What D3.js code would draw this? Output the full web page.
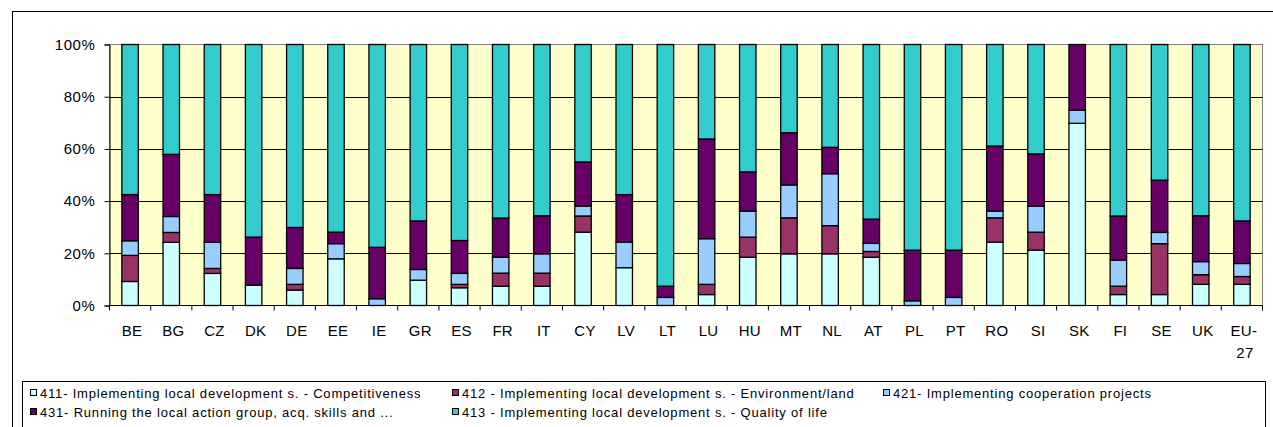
<!DOCTYPE html>
<html lang="en">
<head>
<meta charset="utf-8">
<style>
	body{
	  margin:0; padding:0;
	  background-color:#ffffff;
	  font-family:"Liberation Sans", Arial, sans-serif;
	}
	.tick text{ font-family:"Liberation Sans", Arial, sans-serif; }
</style>
<script src="https://cdn.jsdelivr.net/npm/d3@7"></script>
</head>
<body>
<svg id="chart" width="1273" height="427"></svg>
<script type="text/javascript">
// countries on the x axis
var countries=["BE","BG","CZ","DK","DE","EE","IE","GR","ES","FR","IT","CY","LV","LT","LU","HU","MT","NL","AT","PL","PT","RO","SI","SK","FI","SE","UK","EU-27"];

// shares per measure (%)
var m411=[9.2,24.2,12.3,7.8,5.9,17.9,0,9.7,6.8,7.4,7.4,28.1,14.5,0,4.2,18.5,19.8,19.8,18.5,0,0,24.3,21.2,69.8,4.2,4.2,8.1,8.1];
var m412=[10.0,3.8,1.9,0,2.2,0,0,0,1.3,5.0,5.0,6.2,0,0,3.9,7.7,13.8,10.8,2.2,0,0,9.3,6.9,0,3.2,19.5,3.7,3.0];
var m421=[5.6,6.1,10.0,0,6.1,5.8,2.6,4.1,4.2,6.1,7.4,3.8,9.8,3.1,17.5,10.0,12.6,19.9,3.1,1.8,3.1,2.6,10.0,5.0,10.0,4.3,5.0,5.0];
var m431=[17.7,23.8,18.3,18.4,15.7,4.4,19.7,18.6,12.6,15.0,14.6,16.9,18.2,4.3,38.2,15.0,20.0,10.1,9.3,19.4,18.1,24.9,20.0,25.2,16.9,20.0,17.6,16.3];
var m413=[57.5,42.1,57.5,73.8,70.1,71.9,77.7,67.6,75.1,66.5,65.6,45.0,57.5,92.6,36.2,48.8,33.8,39.4,66.9,78.8,78.8,38.9,41.9,0,65.7,52.0,65.6,67.6];

var seriesKeys=["411","412","421","431","413"];
var seriesNames=["411- Implementing local development s. - Competitiveness",
	"412 - Implementing local development s. - Environment/land",
	"421- Implementing cooperation projects",
	"431- Running the local action group, acq. skills and ...",
	"413 - Implementing local development s. - Quality of life"];
var seriesColors=["#CCFFFF","#993366","#99CCFF","#660066","#33CCCC"];
var yTicks=[0,20,40,60,80,100];

var rows=countries.map(function(c,i){
	return {country:c,"411":m411[i],"412":m412[i],"421":m421[i],"431":m431[i],"413":m413[i]};
});

var svg=d3.select("#chart");

// outer chart frame (runs off the right/bottom of the picture)
svg.append("rect")
	.attr("x",12.5).attr("y",11.5)
	.attr("width",1300).attr("height",500)
	.attr("fill","none").attr("stroke","#000").attr("stroke-width",1);

var plot={left:109.5,right:1262.5,top:44.5,bottom:305.5};

var x=d3.scaleBand().domain(countries).range([plot.left,plot.right]).padding(0);
var y=d3.scaleLinear().domain([0,100]).range([plot.bottom,plot.top]);
var barW=x.bandwidth()*0.4;

// plot area
svg.append("rect")
	.attr("x",plot.left).attr("y",plot.top)
	.attr("width",plot.right-plot.left).attr("height",plot.bottom-plot.top)
	.attr("fill","#FFFFCC").attr("stroke","#808080").attr("stroke-width",1);

// gridlines
svg.append("g").selectAll("line")
	.data(yTicks.filter(function(t){return t>0&&t<100;}))
	.enter().append("line")
	.attr("x1",plot.left).attr("x2",plot.right)
	.attr("y1",function(d){return Math.round(y(d))+0.5;})
	.attr("y2",function(d){return Math.round(y(d))+0.5;})
	.attr("stroke","#000").attr("stroke-width",1);

var stack=d3.stack().keys(seriesKeys);
var layers=stack(rows);

svg.append("g").selectAll("g")
	.data(layers)
	.enter().append("g")
	.attr("fill",function(d,i){return seriesColors[i];})
	.selectAll("rect")
	.data(function(d){return d.filter(function(p){return p[1]-p[0]>0;});})
	.enter().append("rect")
	.attr("x",function(d){return x(d.data.country)+x.bandwidth()/2-barW/2;})
	.attr("y",function(d){return y(d[1]);})
	.attr("width",barW)
	.attr("height",function(d){return y(d[0])-y(d[1]);})
	.attr("stroke","#000").attr("stroke-width",1.3);

// y axis
var yAxis=svg.append("g")
	.attr("transform","translate("+plot.left+",0)")
	.call(d3.axisLeft(y).tickValues(yTicks).tickSize(5).tickPadding(9)
		.tickFormat(function(d){return d+"%";}));
yAxis.select(".domain").attr("stroke","#000");
yAxis.selectAll(".tick line").attr("stroke","#000");
yAxis.selectAll(".tick text").attr("font-size",15).attr("letter-spacing",0.6).attr("fill","#000");

// x axis: ticks sit between the categories
var xAxis=svg.append("g").attr("transform","translate(0,"+plot.bottom+")");
xAxis.append("line")
	.attr("x1",plot.left).attr("x2",plot.right)
	.attr("stroke","#000");
xAxis.selectAll("line.tk")
	.data(countries.concat(["end"]))
	.enter().append("line").attr("class","tk")
	.attr("x1",function(d,i){return plot.left+i*x.step();})
	.attr("x2",function(d,i){return plot.left+i*x.step();})
	.attr("y1",0).attr("y2",5).attr("stroke","#000");
xAxis.selectAll("text")
	.data(countries)
	.enter().append("text")
	.attr("text-anchor","middle")
	.attr("font-size",15).attr("letter-spacing",0.3)
	.attr("x",function(d){return x(d)+x.bandwidth()/2;})
	.attr("y",30)
	.each(function(d){
		var parts=d.indexOf("-")>0?[d.split("-")[0]+"-",d.split("-")[1]]:[d];
		var t=d3.select(this);
		parts.forEach(function(p,j){
			t.append("tspan").attr("x",x(d)+x.bandwidth()/2+(j?3:2)).attr("dy",j?22:0).text(p);
		});
	});

// legend
var legend=svg.append("g");
legend.append("rect")
	.attr("x",22.5).attr("y",381.5)
	.attr("width",1243).attr("height",80)
	.attr("fill","#fff").attr("stroke","#000").attr("stroke-width",1);
var legendPos=[[30,393],[452,393],[883,393],[30,412],[452,412]];
var items=legend.selectAll("g.item")
	.data(seriesKeys)
	.enter().append("g").attr("class","item")
	.attr("transform",function(d,i){return "translate("+legendPos[i][0]+","+legendPos[i][1]+")";});
items.append("rect")
	.attr("x",0.5).attr("y",-3.5).attr("width",6).attr("height",6)
	.attr("fill",function(d,i){return seriesColors[i];})
	.attr("stroke","#000").attr("stroke-width",1);
items.append("text")
	.attr("x",10).attr("y",5)
	.attr("font-size",13).attr("letter-spacing",0.8)
	.text(function(d,i){return seriesNames[i];});
</script>
</body>
</html>
